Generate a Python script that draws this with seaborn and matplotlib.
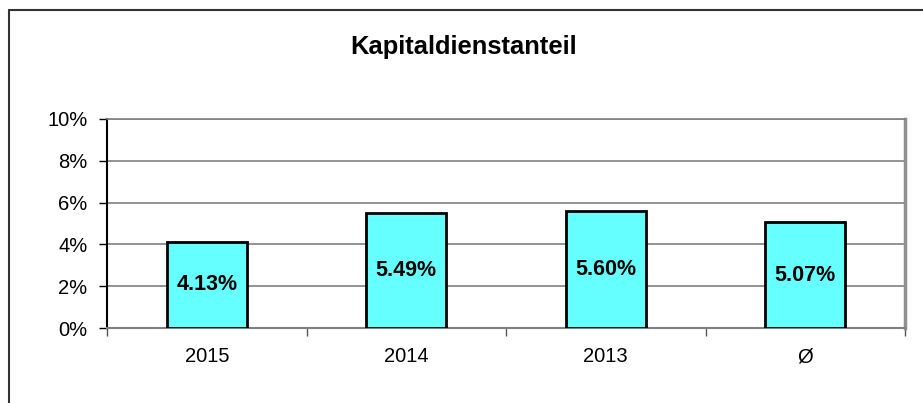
import matplotlib
matplotlib.use("Agg")
import matplotlib.pyplot as plt
import seaborn as sns
import pandas as pd
from matplotlib.lines import Line2D

categories = ["2015", "2014", "2013", "Ø"]
values = [4.13, 5.49, 5.60, 5.07]
y_ticks = [0, 2, 4, 6, 8, 10]

df = pd.DataFrame({"jahr": categories, "anteil": values})

sns.set_style("white")
plt.rcParams["font.family"] = ["Liberation Sans", "DejaVu Sans"]
plt.rcParams["text.color"] = "black"
plt.rcParams["xtick.color"] = "black"
plt.rcParams["ytick.color"] = "black"

fig = plt.figure(figsize=(9.23, 4.03), dpi=100)
ax = fig.add_axes([107 / 923, 1 - 328 / 403, 798 / 923, 209 / 403])

sns.barplot(data=df, x="jahr", y="anteil", color="#66FFFF", saturation=1,
            width=0.4, edgecolor="black", linewidth=2, ax=ax, zorder=3)

ax.set_ylim(0, 10)
ax.set_xlim(-0.5, 3.5)
ax.set_yticks(y_ticks)
ax.set_yticklabels([f"{t}%" for t in y_ticks], fontsize=14.5)
ax.set_xticks(range(len(categories)))
ax.set_xticklabels(categories, fontsize=14.5)
ax.set_xlabel("")
ax.set_ylabel("")

# gridlines
for t in y_ticks[1:]:
    ax.axhline(t, color="#808080", linewidth=1.2, zorder=1)

# spines
ax.spines["left"].set_color("black")
ax.spines["left"].set_linewidth(1.5)
ax.spines["bottom"].set_color("#808080")
ax.spines["bottom"].set_linewidth(1.5)
ax.spines["top"].set_color("#808080")
ax.spines["top"].set_linewidth(1.2)
ax.spines["right"].set_color("#909090")
ax.spines["right"].set_linewidth(2.5)

# tick marks: y outward, x at category boundaries
ax.tick_params(axis="y", direction="out", length=6, width=1, color="black",
               left=True, pad=8)
ax.tick_params(axis="x", length=0, pad=14)
ax.set_xticks([-0.5, 0.5, 1.5, 2.5, 3.5], minor=True)
ax.tick_params(axis="x", which="minor", direction="out", length=6, width=1,
               color="#555555", bottom=True)

# value labels centred in bars
for i, v in enumerate(values):
    ax.text(i, v / 2, f"{v:.2f}%", ha="center", va="center",
            fontsize=15.5, fontweight="bold", color="black", zorder=4)

fig.text(464 / 923, 1 - 47 / 403, "Kapitaldienstanteil", ha="center",
         va="center", fontsize=18.4, fontweight="bold", color="black")

# outer chart frame (cut off at right and bottom)
fig.add_artist(Line2D([8.5 / 923, 1], [1 - 9.5 / 403] * 2,
                      transform=fig.transFigure, color="#333333", linewidth=1.5))
fig.add_artist(Line2D([8.5 / 923] * 2, [0, 1 - 9.5 / 403],
                      transform=fig.transFigure, color="#333333", linewidth=1.5))

fig.savefig("out.png", dpi=100)
